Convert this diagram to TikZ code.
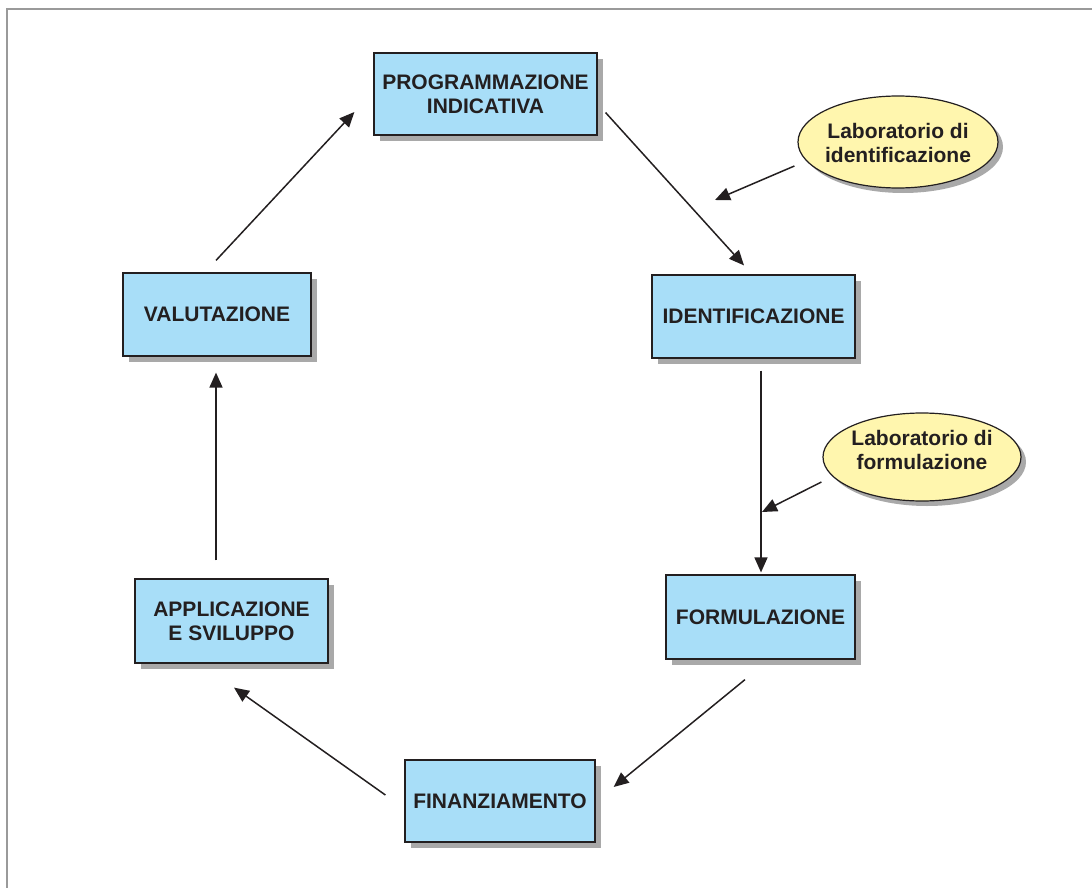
\documentclass[tikz,border=0pt]{standalone}
\usepackage{fontspec}
\setmainfont{Liberation Sans}
\usetikzlibrary{shadows,calc,arrows.meta,shapes.geometric}
\definecolor{boxblue}{HTML}{A8DEF8}
\definecolor{ellyellow}{HTML}{FFF6AE}
\definecolor{txt}{HTML}{231F20}
\definecolor{shadowgray}{HTML}{A9A9A9}
\definecolor{framegray}{HTML}{9A9A9A}
\begin{document}
\begin{tikzpicture}[x=1pt,y=-1pt,
  stagebox/.style={draw=txt, line width=1.2pt, fill=boxblue, rectangle, inner sep=0pt,
    align=center, text=txt, font=\fontsize{21}{24}\selectfont\bfseries,
    drop shadow={shadow xshift=6pt, shadow yshift=-6pt, fill=shadowgray, opacity=1}},
  ellshape/.style={draw=txt, line width=1.2pt, fill=ellyellow, ellipse, inner sep=0pt,
    drop shadow={shadow xshift=5pt, shadow yshift=-5pt, fill=shadowgray, opacity=1}},
  elltext/.style={inner sep=0pt, align=center, text=txt, font=\fontsize{21}{24}\selectfont\bfseries},
  arr/.style={draw=txt, line width=1.5pt, -{Triangle[length=15pt,width=13pt]}}
]
\useasboundingbox (0,0) rectangle (1092,888);
\draw[framegray, line width=2pt] (7,900) -- (7,9) -- (1100,9);

\node[stagebox, minimum width=223pt, minimum height=82pt] (prog) at (485.5,94) {PROGRAMMAZIONE\\INDICATIVA};
\node[stagebox, minimum width=203pt, minimum height=83pt] (ident) at (753.5,316.5) {IDENTIFICAZIONE};
\node[stagebox, minimum width=188pt, minimum height=83pt] (valut) at (217,314.5) {VALUTAZIONE};
\node[stagebox, minimum width=189pt, minimum height=84pt] (form) at (760.5,617) {FORMULAZIONE};
\node[stagebox, minimum width=193pt, minimum height=84pt] (appl) at (231.5,621) {APPLICAZIONE\\E SVILUPPO};
\node[stagebox, minimum width=190pt, minimum height=82pt] (fin) at (500,801) {FINANZIAMENTO};

\node[ellshape, minimum width=200pt, minimum height=92pt] (labid) at (898,142) {};
\node[elltext] (labidtext) at (898,143) {Laboratorio di\\identificazione};
\node[ellshape, minimum width=198pt, minimum height=88pt] (labform) at (922,457) {};
\node[elltext] (labformtext) at (922,450) {Laboratorio di\\formulazione};

\coordinate (labidend) at (715,200);
\coordinate (labformend) at (762,512);

\draw[arr] ($(prog.south east)+(8,-23)$) -- ($(ident.north)+(-9.5,-9)$);
\draw[arr] ($(labid.west)+(-3,24)$) -- (labidend);
\draw[arr] ($(ident.south)+(7.5,12)$) -- ($(form.north)+(0.5,-2)$);
\draw[arr] ($(labform.west)+(-1,25)$) -- (labformend);
\draw[arr] ($(form.south)+(-15.5,20)$) -- ($(fin.east)+(18,-14)$);
\draw[arr] ($(fin.west)+(-19,-6)$) -- ($(appl.south)+(2.5,24)$);
\draw[arr] ($(appl.north)+(-15.5,-18)$) -- ($(valut.south)+(-1,16)$);
\draw[arr] ($(valut.north)+(-1,-12)$) -- ($(prog.west)+(-19,18)$);
\end{tikzpicture}
\end{document}
